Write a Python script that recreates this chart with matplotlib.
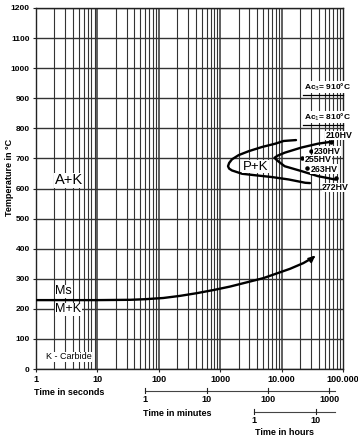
import matplotlib
matplotlib.use("Agg")
import matplotlib.pyplot as plt
import numpy as np

plt.rcParams['font.family'] = ['Liberation Sans', 'DejaVu Sans']

# ---- data ----
temp_ticks = list(range(0, 1300, 100))
sec_ticks = [1, 10, 100, 1000, 10000, 100000]
sec_labels = ["1", "10", "100", "1000", "10.000", "100.000"]
min_ticks = [1, 10, 100, 1000]
min_labels = ["1", "10", "100", "1000"]
hour_ticks = [1, 10]
hour_labels = ["1", "10"]

ms_time = [1, 10, 34, 60, 118, 220, 414, 800, 1445, 2700, 5040, 9000, 13700, 22600, 32800]
ms_temp = [229, 229, 230, 232, 236, 243, 252, 263, 274, 288, 302, 320, 333, 352, 371]

pk_outer_time = [17170, 10800, 7900, 4800, 2910, 2000, 1556, 1400, 1340, 1400, 1556, 2265, 3730, 6980, 13050, 24300, 29000]
pk_outer_temp = [761, 758, 749, 738, 724, 711, 697, 685, 674, 666, 660, 649, 644, 638, 630, 619, 618]

pk_inner_time = [68000, 39100, 20900, 11230, 8600, 7660, 8600, 11230, 20900, 39100, 74000]
pk_inner_temp = [756, 749, 736, 719, 709, 702, 692, 674, 658, 641, 630]

hv_labels = ["210HV", "230HV", "255HV", "263HV", "272HV"]
hv_time = [63800, 29800, 21200, 25900, 76900]
hv_temp = [753, 724, 700, 669, 636]

ac_labels = [r"Ac$_3$= 910°C", r"Ac$_1$= 810°C"]
ac_temp = [910, 810]

fig = plt.figure(figsize=(3.58, 4.37), dpi=100)
ax = fig.add_axes([36/358, 1-369/437, 307/358, 361/437])
ax.set_xscale('log')
ax.set_xlim(1, 100000)
ax.set_ylim(0, 1200)

# grid
gc = '#333333'
for k in range(5):
    for n in range(1, 10):
        v = n * 10**k
        ax.axvline(v, color=gc, lw=1.1 if n == 1 else 0.8, zorder=1)
for t in temp_ticks:
    ax.axhline(t, color=gc, lw=1.0, zorder=1)

for s in ax.spines.values():
    s.set_color('#222222')
    s.set_linewidth(1.0)

ax.set_yticks(temp_ticks)
ax.set_yticklabels([str(t) for t in temp_ticks], fontsize=6, fontweight='bold')
ax.set_xticks(sec_ticks)
ax.set_xticklabels(sec_labels, fontsize=6.5, fontweight='bold')
ax.xaxis.set_minor_locator(matplotlib.ticker.NullLocator())
ax.tick_params(axis='both', length=2, width=0.8, pad=2, color='#222222')
ax.tick_params(axis='y', pad=2.5)
ax.set_ylabel("Temperature in °C", fontsize=6.5, fontweight='bold')
ax.yaxis.set_label_coords(-0.072, 0.53)

# curves
ax.plot(ms_time, ms_temp, color='black', lw=1.7, zorder=3, solid_capstyle='round', solid_joinstyle='round')
ax.annotate('', xy=(35500, 377), xytext=(ms_time[-1], ms_temp[-1]),
            arrowprops=dict(arrowstyle='-|>,head_length=0.4,head_width=0.18', color='black', lw=1.2,
                            shrinkA=0, shrinkB=0),
            zorder=3)
ax.plot(pk_outer_time, pk_outer_temp, color='black', lw=1.7, zorder=3, solid_capstyle='round', solid_joinstyle='round')
ax.plot(pk_inner_time, pk_inner_temp, color='black', lw=1.7, zorder=3, solid_capstyle='round', solid_joinstyle='round')

# hardness points
ax.scatter(hv_time, hv_temp, s=5, color='black', zorder=4, clip_on=False)
hv_offsets = [(-4, 5), (2, 0), (2, -1), (2.5, -1), (-10, -7)]
for lab, t, T, off in zip(hv_labels, hv_time, hv_temp, hv_offsets):
    ax.annotate(lab, (t, T), xytext=off, textcoords='offset points', fontsize=6.3, fontweight='bold',
                va='center', ha='left', zorder=5,
                bbox=dict(boxstyle='square,pad=0.03', fc='white', ec='none'))

# Ac lines
for lab, T in zip(ac_labels, ac_temp):
    ax.plot([22000, 100000], [T, T], color='black', lw=0.9, zorder=4, clip_on=False)
    ax.text(23000, T + 8, lab, fontsize=6, fontweight='bold', va='bottom', ha='left', zorder=5,
            bbox=dict(boxstyle='square,pad=0.05', fc='white', ec='none'))

# region labels
tb = dict(boxstyle='square,pad=0.05', fc='white', ec='none')
ax.text(2.0, 627, "A+K", fontsize=10.5, va='center', ha='left', zorder=5, bbox=tb)
ax.text(2.05, 258, "Ms", fontsize=9, va='center', ha='left', zorder=5, bbox=tb)
ax.text(2.05, 198, "M+K", fontsize=9, va='center', ha='left', zorder=5, bbox=tb)
ax.text(2350, 672, "P+K", fontsize=9.5, va='center', ha='left', zorder=5, bbox=tb)
ax.text(1.45, 40, "K - Carbide", fontsize=6.5, va='center', ha='left', zorder=5, bbox=tb)

# secondary time scales
trans = matplotlib.transforms.blended_transform_factory(ax.transData, ax.transAxes)
y_min, y_hr = -0.060, -0.118
ax.plot([60, 74000], [y_min, y_min], transform=trans, color='#444444', lw=0.8, clip_on=False)
for m, lab in zip(min_ticks, min_labels):
    ax.plot([m * 60, m * 60], [y_min - 0.006, y_min + 0.006], transform=trans, color='#222222', lw=0.8, clip_on=False)
    ax.text(m * 60, y_min - 0.012, lab, transform=trans, fontsize=6.5, fontweight='bold',
            ha='center', va='top')
ax.plot([3600, 74000], [y_hr, y_hr], transform=trans, color='#444444', lw=0.8, clip_on=False)
for h, lab in zip(hour_ticks, hour_labels):
    ax.plot([h * 3600, h * 3600], [y_hr - 0.006, y_hr + 0.006], transform=trans, color='#222222', lw=0.8, clip_on=False)
    ax.text(h * 3600, y_hr - 0.012, lab, transform=trans, fontsize=6.5, fontweight='bold',
            ha='center', va='top')

ax.text(-0.006, -0.066, "Time in seconds", transform=ax.transAxes, fontsize=6.5, fontweight='bold', ha='left', va='center')
ax.text(0.349, -0.122, "Time in minutes", transform=ax.transAxes, fontsize=6.5, fontweight='bold', ha='left', va='center')
ax.text(0.713, -0.177, "Time in hours", transform=ax.transAxes, fontsize=6.5, fontweight='bold', ha='left', va='center')

fig.savefig("out.png", dpi=100, facecolor='white')
